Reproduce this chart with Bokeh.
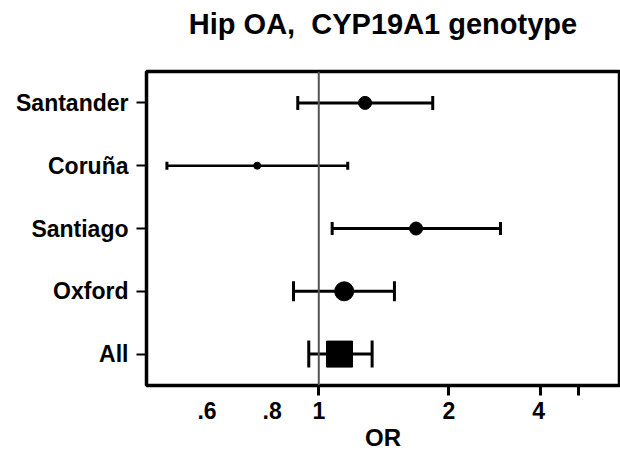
from bokeh.plotting import figure
from bokeh.models import (ColumnDataSource, FactorRange, FixedTicker,
                          Range1d, Span, CustomJSTickFormatter)
from bokeh.embed import file_html
from bokeh.resources import INLINE

# ---- data ----
studies = ["Santander", "Coruña", "Santiago", "Oxford", "All"]
odds_ratio = [1.28, 0.72, 1.68, 1.145, 1.117]
ci_low = [0.894, 0.445, 1.074, 0.874, 0.948]
ci_high = [1.836, 1.167, 2.635, 1.497, 1.329]

x_tick_marks = [1, 2, 3.26, 4]
x_label_pos = [0.551, 0.78, 1, 2, 3.23]
x_tick_labels = [".6", ".8", "1", "2", "4"]

# ---- styles ----
marker_px = [13, 7, 13, 19, 26]
cap_px = [14, 8, 13, 20, 27]
line_px = [3, 2.5, 3, 3, 3]
shapes = ["circle", "circle", "circle", "circle", "square"]

FONT = "Liberation Sans"

src = ColumnDataSource(dict(study=studies, orv=odds_ratio, lo=ci_low, hi=ci_high,
                            msize=marker_px, cap=cap_px, lw=line_px, shape=shapes))

p = figure(width=620, height=454, x_axis_type="log",
           x_range=Range1d(0.3991, 4.97),
           y_range=FactorRange(*reversed(studies)),
           output_backend="svg", toolbar_location=None,
           min_border_left=146, min_border_right=1,
           min_border_top=71, min_border_bottom=69,
           title="Hip OA,\u00a0 CYP19A1 genotype\n\u00a0")

p.title.text_font = FONT
p.title.text_font_size = "29px"
p.title.text_font_style = "bold"
p.title.text_color = "black"
p.title.align = "center"
p.title.standoff = 0
p.title.vertical_align = "bottom"

p.grid.visible = False
p.outline_line_color = "black"
p.outline_line_width = 3.5
p.outline_line_alpha = 1.0

# reference line at OR = 1
p.add_layout(Span(location=1, dimension="height", line_color="#555555", line_width=2))

# error bars
p.segment(x0="lo", y0="study", x1="hi", y1="study", line_width="lw",
          line_color="black", source=src)
p.rect(x="lo", y="study", width=3, height="cap", width_units="screen",
       height_units="screen", fill_color="black", line_color=None, source=src)
p.rect(x="hi", y="study", width=3, height="cap", width_units="screen",
       height_units="screen", fill_color="black", line_color=None, source=src)

# point estimates
p.scatter(x="orv", y="study", size="msize", marker="shape", fill_color="black",
          line_color="black", source=src)

# y axis
ya = p.yaxis[0]
ya.axis_line_color = None
ya.major_tick_out = 10
ya.major_tick_in = 0
ya.major_tick_line_width = 2
ya.major_label_standoff = 8
ya.major_label_text_font = FONT
ya.major_label_text_font_size = "23px"
ya.major_label_text_font_style = "bold"
ya.major_label_text_color = "black"

# x axis: labels as (invisible) major ticks, marks as minor ticks
xa = p.xaxis[0]
xa.ticker = FixedTicker(ticks=x_label_pos, minor_ticks=x_tick_marks)
xa.formatter = CustomJSTickFormatter(
    args=dict(pos=x_label_pos, labels=x_tick_labels),
    code="""
const i = pos.findIndex(v => Math.abs(v - tick) < 1e-6);
return i >= 0 ? labels[i] : '';
""")
xa.axis_line_color = None
xa.major_tick_out = 0
xa.major_tick_in = 0
xa.major_tick_line_color = None
xa.minor_tick_out = 10
xa.minor_tick_in = 0
xa.minor_tick_line_width = 3
xa.minor_tick_line_color = "black"
xa.major_label_standoff = 6
xa.major_label_text_font = FONT
xa.major_label_text_font_size = "23px"
xa.major_label_text_font_style = "bold"
xa.major_label_text_color = "black"
xa.axis_label = "OR"
xa.axis_label_standoff = 2
xa.axis_label_text_font = FONT
xa.axis_label_text_font_size = "24px"
xa.axis_label_text_font_style = "bold"
xa.axis_label_text_color = "black"

open("out.html", "w").write(file_html(p, INLINE))
